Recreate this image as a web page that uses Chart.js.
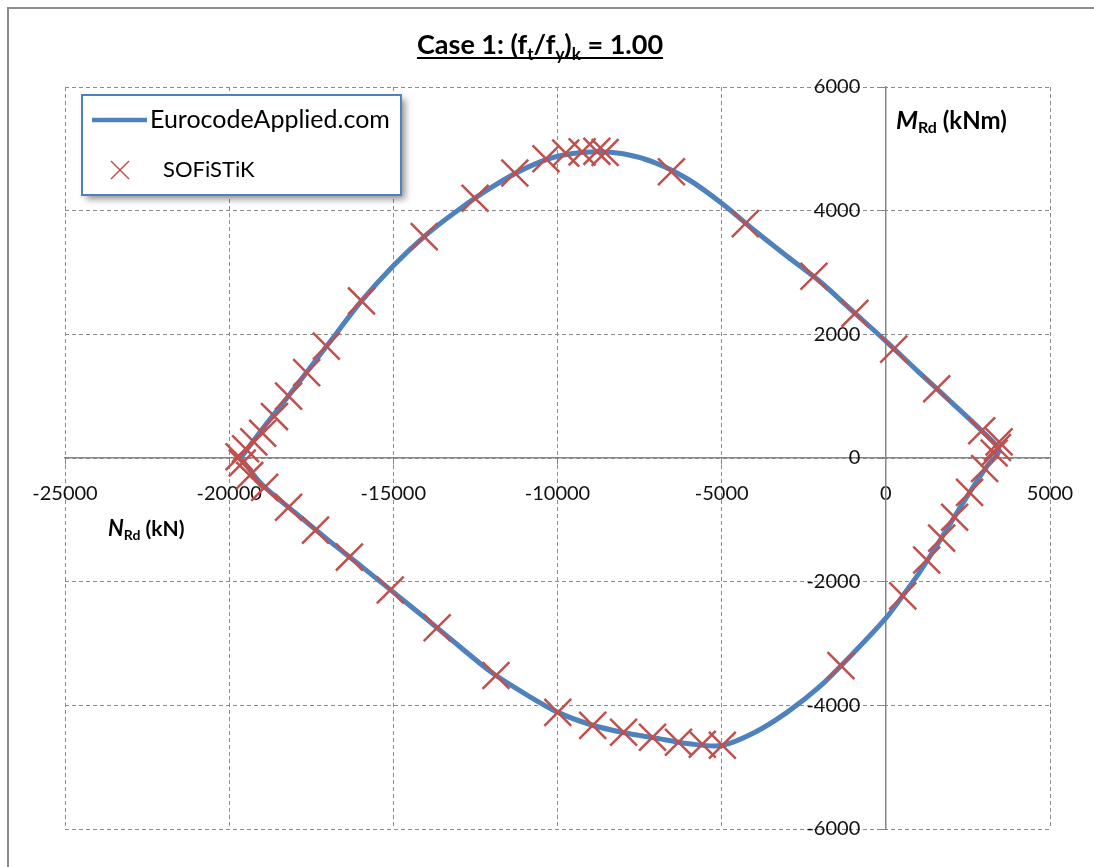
<!DOCTYPE html>
<html>
<head>
<meta charset="utf-8">
<script src="https://cdn.jsdelivr.net/npm/chart.js@4.4.0/dist/chart.umd.min.js"></script>
<style>
  html, body { margin: 0; padding: 0; background: #fff; }
  #wrap { position: relative; width: 1094px; height: 867px; overflow: hidden; background: #fff; }
  #frame { position: absolute; left: 7px; top: 7px; width: 1200px; height: 1000px; border: 2px solid #8c8c8c; }
  canvas { position: absolute; left: 0; top: 0; }
</style>
</head>
<body>
<div id="wrap">
  <div id="frame"></div>
  <canvas id="chart" width="1094" height="867"></canvas>
</div>
<script>
// EurocodeApplied.com interaction curve (N in kN, M in kNm)
const lineN = [-19650, -19300, -18900, -18200, -17000, -16000, -15000, -14000, -13000, -12000,
  -11000, -10000, -9000, -8000, -7000, -6000, -5000, -4000, -3000, -2000,
  -1000, 0, 1000, 2000, 3000, 3450, 3100, 2500, 2000, 1500,
  1000, 500, 0, -1000, -2000, -3000, -4000, -5000, -6000, -7000,
  -8000, -9000, -10000, -11000, -12000, -13000, -14000, -15000, -16000, -17000,
  -18000, -19000, -19650];
const lineM = [0, 250, 530, 1000, 1830, 2520, 3110, 3610, 4020, 4380,
  4680, 4880, 4950, 4920, 4770, 4500, 4120, 3680, 3260, 2850,
  2370, 1890, 1390, 900, 400, 120, -120, -600, -1030, -1460,
  -1870, -2240, -2590, -3160, -3690, -4110, -4440, -4650, -4620, -4530,
  -4440, -4310, -4110, -3810, -3470, -3040, -2600, -2170, -1740, -1320,
  -880, -430, 0];

// SOFiSTiK results
const sofN = [-19700, -19500, -19250, -18980, -18620, -18190, -17640, -17040, -15970, -14060,
  -12510, -11300, -10350, -9750, -9250, -8800, -8550, -6530, -4280, -2190,
  -940, 240, 1550, 2920, 3300, 3400, 3450,
  3010, 2550, 2095, 1700, 1245, 516, -1367, -4980, -5590,
  -6316, -7106, -7987, -8928, -9991, -11874, -13665, -15093, -16338, -17370,
  -18190, -18919, -19374, -19600];
const sofM = [20, 150, 260, 400, 670, 1000, 1380, 1810, 2540, 3580,
  4200, 4610, 4840, 4930, 4950, 4960, 4940, 4630, 3790, 2940,
  2340, 1760, 1120, 440, 80, 170, 260,
  -169, -556, -958, -1296, -1650, -2230, -3357, -4646, -4630,
  -4597, -4517, -4436, -4324, -4114, -3518, -2746, -2134, -1602, -1167,
  -797, -475, -282, -80];

const xTicks = [-25000, -20000, -15000, -10000, -5000, 0, 5000];
const yTicks = [-6000, -4000, -2000, 0, 2000, 4000, 6000];

const BLUE = '#4F81BD';
const RED = '#C0504D';
const FONT = 'Lato, "Open Sans", sans-serif';

const toPts = (xs, ys) => xs.map((x, i) => ({ x: x, y: ys[i] }));

function drawRuns(ctx, runs, x, baseY) {
  runs.forEach(r => {
    ctx.font = r.font;
    ctx.fillText(r.t, x, baseY + (r.dy || 0));
    x += ctx.measureText(r.t).width;
  });
  return x;
}

function runsWidth(ctx, runs) {
  let w = 0;
  runs.forEach(r => { ctx.font = r.font; w += ctx.measureText(r.t).width; });
  return w;
}

const decor = {
  id: 'decor',
  afterDraw(chart) {
    const ctx = chart.ctx;
    ctx.save();
    ctx.fillStyle = '#000';
    ctx.textBaseline = 'alphabetic';
    ctx.textAlign = 'left';

    // title
    const big = 'bold 27px ' + FONT;
    const sub = 'bold 17px ' + FONT;
    const title = [
      { t: 'Case 1: (f', font: big },
      { t: 't', font: sub, dy: 6 },
      { t: '/f', font: big },
      { t: 'y', font: sub, dy: 6 },
      { t: ')', font: big },
      { t: 'k', font: sub, dy: 6 },
      { t: ' = 1.00', font: big }
    ];
    const tw = runsWidth(ctx, title);
    const tx = 540 - tw / 2;
    drawRuns(ctx, title, tx, 54);
    ctx.strokeStyle = '#000';
    ctx.lineWidth = 2;
    ctx.beginPath();
    ctx.moveTo(tx, 58);
    ctx.lineTo(tx + tw, 58);
    ctx.stroke();

    // axis titles
    drawRuns(ctx, [
      { t: 'M', font: 'italic bold 25px ' + FONT },
      { t: 'Rd', font: 'bold 16px ' + FONT, dy: 4 },
      { t: ' (kNm)', font: 'bold 24px ' + FONT }
    ], 896, 129);
    drawRuns(ctx, [
      { t: 'N', font: 'italic bold 22px ' + FONT },
      { t: 'Rd', font: 'bold 14px ' + FONT, dy: 4 },
      { t: ' (kN)', font: 'bold 21px ' + FONT }
    ], 108, 536);

    // legend box
    ctx.save();
    ctx.shadowColor = 'rgba(0,0,0,0.45)';
    ctx.shadowBlur = 7;
    ctx.shadowOffsetX = 4;
    ctx.shadowOffsetY = 4;
    ctx.fillStyle = '#fff';
    ctx.fillRect(82, 95, 319, 100);
    ctx.restore();
    ctx.strokeStyle = BLUE;
    ctx.lineWidth = 2;
    ctx.strokeRect(82, 95, 319, 100);

    ctx.strokeStyle = BLUE;
    ctx.lineWidth = 4.5;
    ctx.beginPath();
    ctx.moveTo(92, 120);
    ctx.lineTo(147, 120);
    ctx.stroke();

    ctx.strokeStyle = RED;
    ctx.lineWidth = 1.5;
    ctx.beginPath();
    ctx.moveTo(111, 161); ctx.lineTo(129, 179);
    ctx.moveTo(129, 161); ctx.lineTo(111, 179);
    ctx.stroke();

    ctx.fillStyle = '#000';
    ctx.textBaseline = 'middle';
    ctx.font = '25px ' + FONT;
    ctx.fillText('EurocodeApplied.com', 150, 120);
    ctx.font = '22px ' + FONT;
    ctx.fillText('SOFiSTiK', 163, 170);
    ctx.restore();
  }
};

const tickFont = { family: FONT, size: 20 };

function build() {
  new Chart(document.getElementById('chart'), {
    type: 'scatter',
    data: {
      datasets: [
        {
          label: 'EurocodeApplied.com',
          data: toPts(lineN, lineM),
          showLine: true,
          borderColor: BLUE,
          backgroundColor: BLUE,
          borderWidth: 5,
          pointRadius: 0,
          tension: 0.3,
          fill: false,
          order: 2
        },
        {
          label: 'SOFiSTiK',
          data: toPts(sofN, sofM),
          showLine: false,
          pointStyle: 'crossRot',
          pointRadius: 19,
          pointBorderWidth: 2.5,
          borderColor: RED,
          backgroundColor: 'rgba(0,0,0,0)',
          order: 1
        }
      ]
    },
    options: {
      responsive: false,
      animation: false,
      layout: { padding: { left: 65, right: 44, top: 87, bottom: 38 } },
      plugins: {
        legend: { display: false },
        title: { display: false },
        tooltip: { enabled: false }
      },
      scales: {
        x: {
          type: 'linear',
          position: { y: 0 },
          min: xTicks[0],
          max: xTicks[xTicks.length - 1],
          ticks: {
            stepSize: xTicks[1] - xTicks[0],
            autoSkip: false,
            maxRotation: 0,
            padding: 18,
            color: '#111',
            font: tickFont,
            callback: v => String(v)
          },
          grid: {
            color: '#8c8c8c',
            lineWidth: 1,
            tickLength: 6,
            tickColor: '#868686',
            tickBorderDash: []
          },
          border: { display: true, color: '#868686', width: 1.5, dash: [4, 3] }
        },
        y: {
          type: 'linear',
          position: { x: 0 },
          min: yTicks[0],
          max: yTicks[yTicks.length - 1],
          ticks: {
            stepSize: yTicks[1] - yTicks[0],
            autoSkip: false,
            color: '#111',
            font: tickFont,
            // labels sit right against a centred y axis, so pad them with spaces
            callback: v => String(v) + '     '
          },
          grid: {
            color: '#8c8c8c',
            lineWidth: 1,
            tickLength: 6,
            tickColor: '#868686',
            tickBorderDash: []
          },
          border: { display: true, color: '#868686', width: 1.5, dash: [4, 3] }
        }
      }
    },
    plugins: [decor]
  });
}

if (document.fonts && document.fonts.load) {
  Promise.all([
    document.fonts.load('20px Lato'),
    document.fonts.load('bold 20px Lato'),
    document.fonts.load('italic bold 20px Lato')
  ]).then(build, build);
} else {
  build();
}
</script>
</body>
</html>
